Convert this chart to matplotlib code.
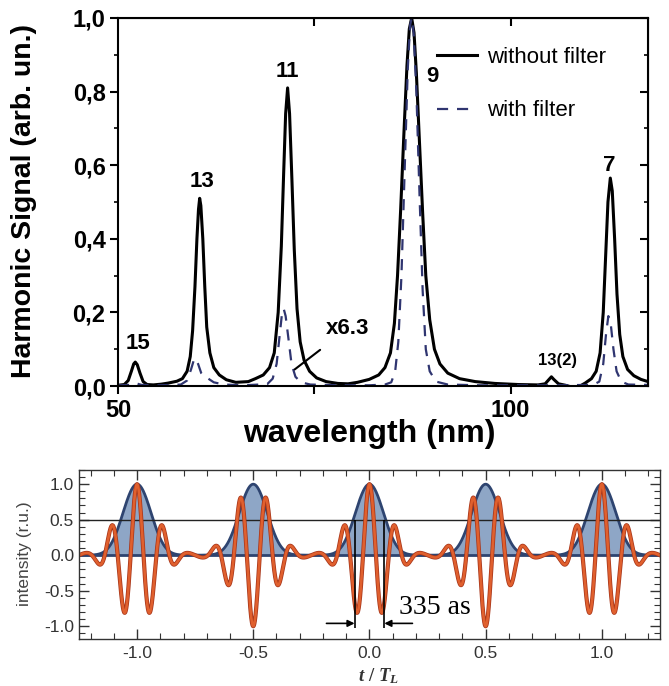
import numpy as np
import matplotlib.pyplot as plt
import matplotlib.patheffects as pe
from matplotlib.ticker import MultipleLocator

plt.rcParams['font.family'] = ['Liberation Sans', 'DejaVu Sans']
plt.rcParams['axes.unicode_minus'] = False
plt.rcParams['mathtext.fontset'] = 'custom'
plt.rcParams['mathtext.it'] = 'Liberation Serif:italic:bold'
plt.rcParams['mathtext.rm'] = 'Liberation Serif:bold'

# --- top panel: harmonic spectrum ---
wl_nofilt = [50.0, 50.8, 51.3, 51.7, 52.0, 52.2, 52.45, 52.8, 53.2, 53.7, 54.5, 55.5,
             56.4, 57.5, 58.2, 58.8, 59.2, 59.5, 59.8, 60.05, 60.25, 60.4, 60.55, 60.8,
             61.05, 61.3, 61.7, 62.2, 62.9, 63.8, 65.0,
             66.6, 67.5, 68.5, 69.3, 69.9, 70.4, 70.8, 71.1, 71.35, 71.6, 71.85, 72.15,
             72.45, 72.8, 73.2, 73.7, 74.4, 75.3, 76.5, 78.0, 79.3,
             80.5, 82.0, 83.2, 84.0, 84.7, 85.2, 85.6, 86.0, 86.4, 86.8, 87.1, 87.4, 87.7,
             88.0, 88.4, 88.8, 89.2, 89.7, 90.3, 91.0, 92.0, 93.5, 95.5, 98.0, 101.0,
             103.5, 104.4, 104.9, 105.2, 105.5, 106.1, 107.0, 107.8,
             108.6, 109.5, 110.3, 110.9, 111.4, 111.8, 112.1, 112.4, 112.7, 112.95, 113.25,
             113.55, 113.9, 114.3, 114.9, 115.7, 116.6, 117.5]
sig_nofilt = [0.002, 0.004, 0.015, 0.04, 0.06, 0.065, 0.058, 0.035, 0.012, 0.004, 0.003, 0.005,
              0.008, 0.013, 0.02, 0.04, 0.08, 0.15, 0.27, 0.4, 0.48, 0.51, 0.49, 0.4,
              0.27, 0.16, 0.09, 0.05, 0.03, 0.017, 0.01,
              0.012, 0.02, 0.03, 0.05, 0.09, 0.2, 0.38, 0.58, 0.74, 0.81, 0.74, 0.56,
              0.37, 0.21, 0.12, 0.07, 0.04, 0.022, 0.012, 0.007, 0.006,
              0.01, 0.018, 0.03, 0.05, 0.09, 0.17, 0.3, 0.48, 0.68, 0.87, 0.97, 1.0, 0.96,
              0.85, 0.66, 0.47, 0.3, 0.18, 0.1, 0.06, 0.035, 0.02, 0.012, 0.007, 0.004,
              0.003, 0.006, 0.018, 0.025, 0.018, 0.006, 0.002, -0.003,
              -0.003, 0.008, 0.02, 0.04, 0.09, 0.2, 0.35, 0.5, 0.565, 0.53, 0.4,
              0.25, 0.14, 0.08, 0.045, 0.028, 0.018, 0.012]

wl_filt = [50.0, 51.5, 52.2, 53.0, 55.0, 57.0, 58.0, 58.8, 59.3, 59.65, 59.9, 60.2, 60.6,
           61.0, 61.5, 62.2, 63.5, 66.0, 69.0, 69.7, 70.2, 70.6, 70.9, 71.1, 71.35, 71.7,
           72.1, 72.6, 73.3, 74.5, 78.0, 82.0, 84.0, 84.8, 85.3, 85.7, 86.1, 86.5, 86.9,
           87.2, 87.4, 87.65, 88.0, 88.4, 88.8, 89.2, 89.7, 90.5, 92.0, 96.0, 100.0, 105.0,
           110.5, 111.3, 111.8, 112.15, 112.45, 112.75, 113.1, 113.5, 114.1, 115.0, 117.5]
sig_filt = [0.002, 0.003, 0.008, 0.003, 0.002, 0.003, 0.004, 0.015, 0.045, 0.07, 0.075, 0.06, 0.035,
            0.025, 0.02, 0.01, 0.004, 0.002, 0.005, 0.02, 0.06, 0.14, 0.2, 0.21, 0.19, 0.13,
            0.06, 0.025, 0.01, 0.004, 0.002, 0.002, 0.004, 0.01, 0.04, 0.12, 0.3, 0.58, 0.86,
            0.98, 1.0, 0.96, 0.8, 0.52, 0.26, 0.1, 0.04, 0.012, 0.004, 0.002, 0.002, 0.002,
            0.003, 0.012, 0.06, 0.14, 0.19, 0.17, 0.1, 0.04, 0.012, 0.004, 0.003]

peak_names = ['15', '13', '11', '9', '7', '13(2)']

# --- bottom panel: harmonic orders and relative amplitudes of the pulse train ---
harm_orders = np.array([5, 7, 9, 11, 13])
harm_amps = np.array([0.12, 0.59, 1.0, 0.59, 0.12])

t = np.linspace(-1.25, 1.25, 3000)
phase = 2 * np.pi * np.outer(t, harm_orders)
field = np.cos(phase) @ harm_amps / harm_amps.sum()
envelope = np.abs(np.exp(1j * phase) @ harm_amps) ** 2 / harm_amps.sum() ** 2

fig = plt.figure(figsize=(6.69, 6.86), dpi=100)

# ---------------- top ----------------
ax1 = fig.add_axes([0.1764, 0.4373, 0.7922, 0.5365])
ax1.plot(wl_nofilt, sig_nofilt, color='black', lw=2.2, label='without filter')
ax1.plot(wl_filt, sig_filt, color='#2f3570', lw=1.6, dashes=(5, 4), label='with filter')
ax1.set_xlim(50, 117.5)
ax1.set_ylim(0, 1.0)
ax1.set_xticks([50, 75, 100])
ax1.set_xticklabels(['50', '', '100'])
yt = np.arange(0, 1.01, 0.2)
ax1.set_yticks(yt)
ax1.set_yticklabels([f'{v:.1f}'.replace('.', ',') for v in yt])
ax1.yaxis.set_minor_locator(MultipleLocator(0.1))
ax1.tick_params(which='major', direction='out', length=6, width=1.5, labelsize=17, pad=3)
ax1.tick_params(which='minor', direction='out', length=3, width=1.2)
for lab in ax1.get_xticklabels() + ax1.get_yticklabels():
    lab.set_fontweight('bold')
for s in ax1.spines.values():
    s.set_linewidth(1.5)

sec_top = ax1.secondary_xaxis('top')
sec_top.set_xticks([75, 100])
sec_top.tick_params(direction='in', length=6, width=1.5, labeltop=False)
sec_right = ax1.secondary_yaxis('right')
sec_right.set_yticks(yt)
sec_right.yaxis.set_minor_locator(MultipleLocator(0.1))
sec_right.tick_params(which='major', direction='in', length=6, width=1.5, labelright=False)
sec_right.tick_params(which='minor', direction='in', length=3, width=1.2)

ax1.set_xlabel('wavelength (nm)', fontsize=23, fontweight='bold')
ax1.xaxis.set_label_coords(0.474, -0.09)
ax1.set_ylabel('Harmonic Signal (arb. un.)', fontsize=20.5, fontweight='bold')
ax1.yaxis.set_label_coords(-0.152, 0.503)

bold = dict(fontsize=16, fontweight='bold', ha='center', va='center')
ax1.text(52.6, 0.115, peak_names[0], **bold)
ax1.text(60.7, 0.555, peak_names[1], **bold)
ax1.text(71.6, 0.855, peak_names[2], **bold)
ax1.text(90.1, 0.84, peak_names[3], **bold)
ax1.text(112.6, 0.60, peak_names[4], **bold)
ax1.text(106.0, 0.07, peak_names[5], fontsize=12, fontweight='bold', ha='center', va='center')
ax1.annotate('x6.3', xy=(72.5, 0.045), xytext=(79.2, 0.155), fontsize=16, fontweight='bold',
             ha='center', va='center',
             arrowprops=dict(arrowstyle='-', color='black', lw=1.5, shrinkA=9, shrinkB=0))

ax1.legend(loc='upper left', bbox_to_anchor=(0.585, 0.945), frameon=False, fontsize=16,
           handlelength=1.8, handletextpad=0.45, labelspacing=1.45, borderaxespad=0)

# ---------------- bottom ----------------
ax2 = fig.add_axes([0.118, 0.0685, 0.8685, 0.2464])
ax2.fill_between(t, envelope, 0, color='#8ea6c6', lw=0)
ax2.plot(t, envelope, color='#2e4470', lw=2.0)
ax2.axhline(0, color='#2e4470', lw=2.0)
ax2.axhline(0.5, color='#222222', lw=1.0)
ax2.plot(t, field, color='#e0602e', lw=1.9,
         path_effects=[pe.Stroke(linewidth=3.0, foreground='#a8361a'), pe.Normal()])

ax2.set_xlim(-1.25, 1.25)
ax2.set_ylim(-1.18, 1.2)
ax2.xaxis.set_major_locator(MultipleLocator(0.5))
ax2.xaxis.set_minor_locator(MultipleLocator(0.1))
ax2.yaxis.set_major_locator(MultipleLocator(0.5))
ax2.yaxis.set_minor_locator(MultipleLocator(0.1))
ax2.tick_params(which='both', direction='in', top=True, right=True, colors='#333333',
                labelsize=12.5)
ax2.tick_params(which='major', length=7, width=1.0)
ax2.tick_params(which='minor', length=4, width=0.8)
ax2.tick_params(axis='x', pad=5)
for s in ax2.spines.values():
    s.set_color('#333333')
    s.set_linewidth(1.0)
ax2.set_ylabel('intensity (r.u.)', fontsize=12.5, color='#444444')
ax2.yaxis.set_label_coords(-0.081, 0.503)
ax2.set_xlabel(r'$t\ /\ T_L$', fontsize=13.5, color='#333333')
ax2.xaxis.set_label_coords(0.515, -0.16)

# 335 as marker
ax2.vlines([-0.064, 0.064], -1.03, 0.5, color='black', lw=1.2)
ax2.annotate('', xy=(-0.064, -0.96), xytext=(-0.185, -0.96),
             arrowprops=dict(arrowstyle='-|>', color='black', lw=1.2, mutation_scale=10,
                             shrinkA=0, shrinkB=0))
ax2.annotate('', xy=(0.064, -0.96), xytext=(0.185, -0.96),
             arrowprops=dict(arrowstyle='-|>', color='black', lw=1.2, mutation_scale=10,
                             shrinkA=0, shrinkB=0))
ax2.text(0.125, -0.74, '335 as', fontsize=20, family='Liberation Serif', ha='left', va='center')

fig.savefig('out.png', dpi=100)
